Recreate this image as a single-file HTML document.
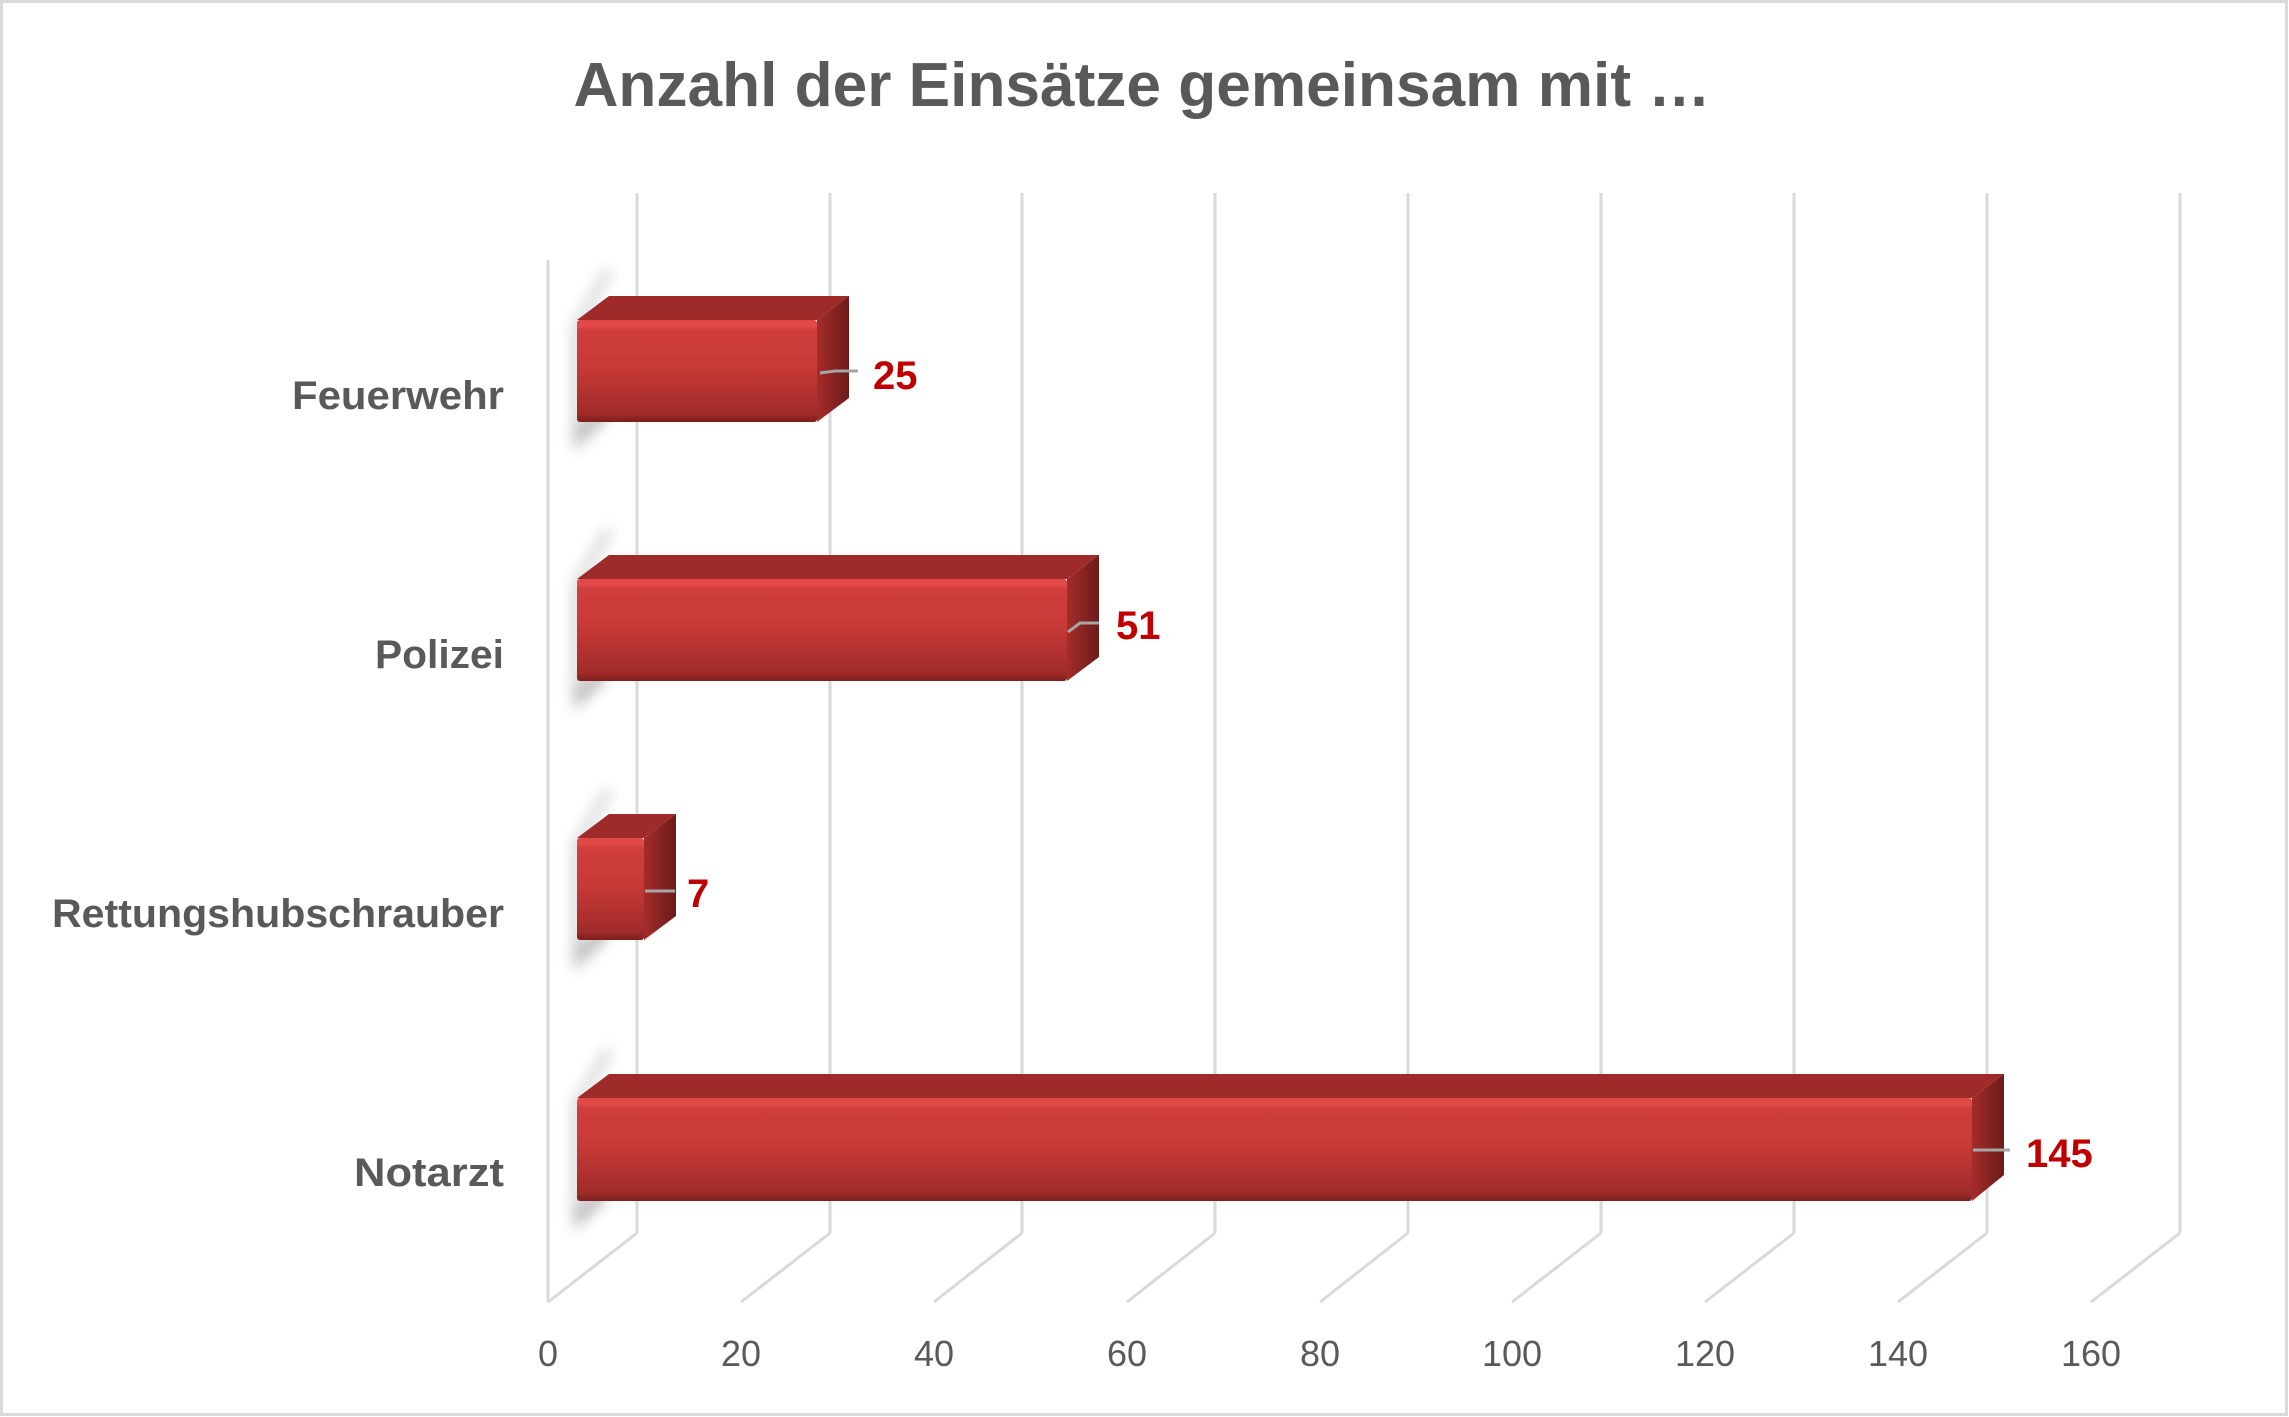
<!DOCTYPE html>
<html><head><meta charset="utf-8"><style>
html,body{margin:0;padding:0;background:#fff}
svg{display:block}
text{font-family:"Liberation Sans",sans-serif}
</style></head><body>
<svg width="2289" height="1417" viewBox="0 0 2289 1417" xmlns="http://www.w3.org/2000/svg">
<defs>
<linearGradient id="front" x1="0" y1="0" x2="0" y2="1">
<stop offset="0" stop-color="#e04846"/>
<stop offset="0.06" stop-color="#e24a47"/>
<stop offset="0.1" stop-color="#cf3e3c"/>
<stop offset="0.45" stop-color="#c83a38"/>
<stop offset="0.92" stop-color="#a02b29"/>
<stop offset="1" stop-color="#7a1f1e"/>
</linearGradient>
<linearGradient id="side" x1="0" y1="0" x2="1" y2="0">
<stop offset="0" stop-color="#a52c2a"/>
<stop offset="1" stop-color="#6b1b1a"/>
</linearGradient>
<filter id="blur" x="-50%" y="-50%" width="200%" height="200%"><feGaussianBlur stdDeviation="7"/></filter>
</defs>
<rect x="1.5" y="1.5" width="2285" height="1413" fill="#fff" stroke="#d9d9d9" stroke-width="3"/>
<text x="1142" y="106" text-anchor="middle" font-size="62" font-weight="bold" fill="#595959" textLength="1137" lengthAdjust="spacingAndGlyphs">Anzahl der Einsätze gemeinsam mit …</text>
<g stroke="#d9d9d9" stroke-width="3" fill="none">
<line x1="548" y1="260" x2="548" y2="1302"/>
<line x1="637" y1="193" x2="637" y2="1233"/><line x1="548" y1="1302" x2="637" y2="1233"/>
<line x1="830" y1="193" x2="830" y2="1233"/><line x1="741" y1="1302" x2="830" y2="1233"/>
<line x1="1022" y1="193" x2="1022" y2="1233"/><line x1="934" y1="1302" x2="1022" y2="1233"/>
<line x1="1215" y1="193" x2="1215" y2="1233"/><line x1="1127" y1="1302" x2="1215" y2="1233"/>
<line x1="1408" y1="193" x2="1408" y2="1233"/><line x1="1320" y1="1302" x2="1408" y2="1233"/>
<line x1="1601" y1="193" x2="1601" y2="1233"/><line x1="1512" y1="1302" x2="1601" y2="1233"/>
<line x1="1794" y1="193" x2="1794" y2="1233"/><line x1="1705" y1="1302" x2="1794" y2="1233"/>
<line x1="1987" y1="193" x2="1987" y2="1233"/><line x1="1898" y1="1302" x2="1987" y2="1233"/>
<line x1="2180" y1="193" x2="2180" y2="1233"/><line x1="2091" y1="1302" x2="2180" y2="1233"/>
</g>
<g font-size="36" fill="#595959" text-anchor="middle">
<text x="548" y="1366">0</text><text x="741" y="1366">20</text><text x="934" y="1366">40</text>
<text x="1127" y="1366">60</text><text x="1320" y="1366">80</text><text x="1512" y="1366">100</text>
<text x="1705" y="1366">120</text><text x="1898" y="1366">140</text><text x="2091" y="1366">160</text>
</g>
<g font-size="40" font-weight="bold" fill="#595959" text-anchor="end">
<text x="504" y="409" textLength="212" lengthAdjust="spacingAndGlyphs">Feuerwehr</text>
<text x="504" y="668" textLength="129" lengthAdjust="spacingAndGlyphs">Polizei</text>
<text x="504" y="927" textLength="452" lengthAdjust="spacingAndGlyphs">Rettungshubschrauber</text>
<text x="504" y="1186" textLength="150" lengthAdjust="spacingAndGlyphs">Notarzt</text>
</g>
<!-- shadows -->
<g fill="#888" opacity="0.6" filter="url(#blur)">
<polygon points="574,325 606,270 612,270 580,325 580,430 606,395 606,420 574,450"/>
<polygon points="574,584 606,530 612,530 580,584 580,690 606,655 606,680 574,710"/>
<polygon points="574,844 606,790 612,790 580,844 580,950 606,915 606,940 574,970"/>
<polygon points="574,1103 606,1050 612,1050 580,1103 580,1210 606,1175 606,1200 574,1230"/>
</g>
<!-- bars -->
<g>
<polygon points="577,320 609,296 849,296 817,320" fill="#9e2b2a"/>
<polygon points="817,320 849,296 849,398 817,422" fill="url(#side)"/>
<rect x="577" y="320" width="240" height="102" rx="3" fill="url(#front)"/>
<polyline points="820,373 835,371 858,371" stroke="#a6a6a6" stroke-width="3" fill="none"/>
<text x="873" y="389" font-size="40" font-weight="bold" fill="#c00000">25</text>

<polygon points="577,579 609,555 1099,555 1067,579" fill="#9e2b2a"/>
<polygon points="1067,579 1099,555 1099,657 1067,681" fill="url(#side)"/>
<rect x="577" y="579" width="490" height="102" rx="3" fill="url(#front)"/>
<polyline points="1068,632 1080,623 1099,623" stroke="#a6a6a6" stroke-width="3" fill="none"/>
<text x="1116" y="639" font-size="40" font-weight="bold" fill="#c00000">51</text>

<polygon points="577,838 609,814 676,814 644,838" fill="#9e2b2a"/>
<polygon points="644,838 676,814 676,916 644,940" fill="url(#side)"/>
<rect x="577" y="838" width="67" height="102" rx="3" fill="url(#front)"/>
<polyline points="645,891 658,891 675,891" stroke="#a6a6a6" stroke-width="3" fill="none"/>
<text x="687" y="907" font-size="40" font-weight="bold" fill="#c00000">7</text>

<polygon points="577,1098 609,1074 2004,1074 1972,1098" fill="#9e2b2a"/>
<polygon points="1972,1098 2004,1074 2004,1175 1972,1201" fill="url(#side)"/>
<rect x="577" y="1098" width="1395" height="103" rx="3" fill="url(#front)"/>
<polyline points="1973,1150 1990,1150 2010,1150" stroke="#a6a6a6" stroke-width="3" fill="none"/>
<text x="2026" y="1167" font-size="40" font-weight="bold" fill="#c00000">145</text>
</g>
</svg>
</body></html>
